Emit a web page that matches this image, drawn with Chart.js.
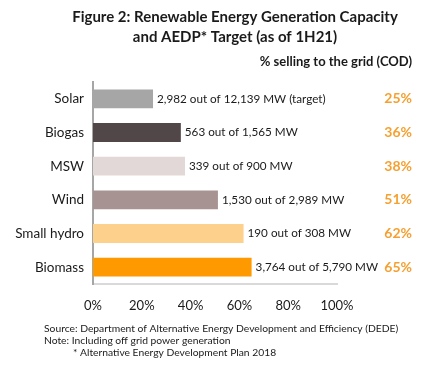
<!DOCTYPE html>
<html>
<head>
<meta charset="utf-8">
<script src="https://cdn.jsdelivr.net/npm/chart.js@4"></script>
<style>
  html, body { margin: 0; padding: 0; background: #fff; }
  #wrap { width: 435px; height: 369px; position: relative; }
</style>
</head>
<body>
<div id="wrap"><canvas id="myChart" width="435" height="369"></canvas></div>
<script>
const categories = ["Solar", "Biogas", "MSW", "Wind", "Small hydro", "Biomass"];
const shareOfTarget = [24.6, 36.0, 37.7, 51.2, 61.7, 65.0];
const barLabels = [
    "2,982 out of 12,139 MW (target)",
    "563 out of 1,565 MW",
    "339 out of 900 MW",
    "1,530 out of 2,989 MW",
    "190 out of 308 MW",
    "3,764 out of 5,790 MW"
];
const codLabels = ["25%", "36%", "38%", "51%", "62%", "65%"];
const xTicks = [0, 20, 40, 60, 80, 100];

const barColors = ["#a6a6a6", "#524748", "#e3d8d8", "#a79391", "#fdd08c", "#fe9900"];
const FONT = "Lato, 'Open Sans', sans-serif";

// texts around the plot: title, column header, bar labels, footer
const textPlugin = {
    id: "texts",
    afterDatasetsDraw(chart) {
        const ctx = chart.ctx;
        ctx.save();
        ctx.fillStyle = "#1a1a1a";
        ctx.textAlign = "center";
        ctx.textBaseline = "middle";
        ctx.font = "bold 15px " + FONT;
        ctx.fillText("Figure 2: Renewable Energy Generation Capacity", 235, 17);
        ctx.fillText("and AEDP* Target (as of 1H21)", 235, 37);

        ctx.textAlign = "right";
        ctx.font = "bold 13px " + FONT;
        ctx.fillText("% selling to the grid (COD)", 412, 62);

        const meta = chart.getDatasetMeta(0);
        meta.data.forEach((bar, i) => {
            ctx.textAlign = "left";
            ctx.fillStyle = "#1a1a1a";
            ctx.font = "11.7px " + FONT;
            ctx.fillText(barLabels[i], bar.x + 4, bar.y);
            ctx.textAlign = "right";
            ctx.fillStyle = "#f5a030";
            ctx.font = "bold 14px " + FONT;
            ctx.fillText(codLabels[i], 412, bar.y);
        });

        ctx.fillStyle = "#1a1a1a";
        ctx.textAlign = "left";
        ctx.font = "10.3px " + FONT;
        ctx.fillText("Source: Department of Alternative Energy Development and Efficiency (DEDE)", 44, 329);
        ctx.fillText("Note: Including off grid power generation", 44, 341);
        ctx.fillText("* Alternative Energy Development Plan 2018", 73, 353);
        ctx.restore();
    }
};

window.onload = () => {
    const config = {
        type: "bar",
        data: {
            labels: categories,
            datasets: [{
                data: shareOfTarget,
                backgroundColor: barColors,
                barPercentage: 0.56,
                categoryPercentage: 1
            }]
        },
        options: {
            indexAxis: "y",
            responsive: false,
            animation: false,
            layout: { padding: { top: 82, right: 98, bottom: 55, left: 0 } },
            plugins: {
                legend: { display: false },
                tooltip: { enabled: false }
            },
            scales: {
                x: {
                    min: 0,
                    max: 100,
                    afterBuildTicks: s => { s.ticks = xTicks.map(v => ({ value: v })); },
                    afterFit: s => { s.height = 30; },
                    grid: { display: false, drawTicks: false },
                    border: { display: true, color: "#d9d9d9", width: 2 },
                    ticks: {
                        padding: 14,
                        color: "#1a1a1a",
                        font: { family: FONT, size: 13 },
                        callback: v => v + "%"
                    }
                },
                y: {
                    afterFit: s => { s.width = 93; },
                    grid: { display: false, drawTicks: false },
                    border: { display: true, color: "#a6a6a6", width: 2 },
                    ticks: {
                        padding: 9,
                        color: "#1a1a1a",
                        font: { family: FONT, size: 13.5 }
                    }
                }
            }
        },
        plugins: [textPlugin]
    };
    new Chart(document.getElementById("myChart").getContext("2d"), config);
};
</script>
</body>
</html>
